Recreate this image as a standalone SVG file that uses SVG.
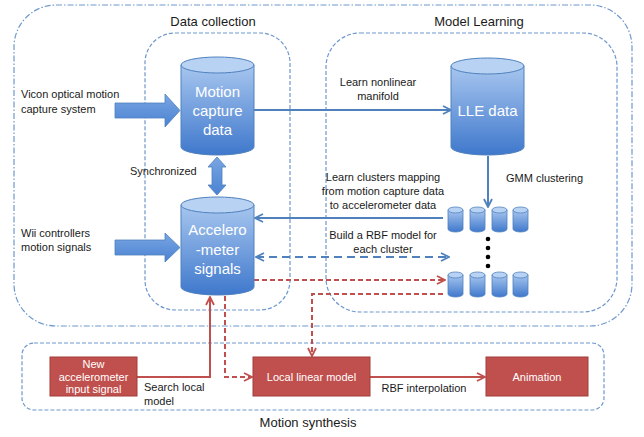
<svg xmlns="http://www.w3.org/2000/svg" xmlns:xlink="http://www.w3.org/1999/xlink" width="644" height="437" viewBox="0 0 644 437">
<defs>
<linearGradient id="cylG" x1="0" y1="0" x2="0" y2="1">
<stop offset="0" stop-color="#a7c6ef"/>
<stop offset="1" stop-color="#3f78cc"/>
</linearGradient>
<linearGradient id="arrG" x1="0" y1="0" x2="0" y2="1">
<stop offset="0" stop-color="#7aa6e3"/>
<stop offset="1" stop-color="#4a82d2"/>
</linearGradient>
<marker id="ab" viewBox="0 0 10 10" refX="9" refY="5" markerWidth="10" markerHeight="10" markerUnits="userSpaceOnUse" orient="auto-start-reverse">
<path d="M1,1 L9,5 L1,9" fill="none" stroke="#4f81bd" stroke-width="1.8"/>
</marker>
<marker id="ar" viewBox="0 0 10 10" refX="9" refY="5" markerWidth="10" markerHeight="10" markerUnits="userSpaceOnUse" orient="auto-start-reverse">
<path d="M1,1 L9,5 L1,9" fill="none" stroke="#c0504d" stroke-width="1.8"/>
</marker>
<g id="sc">
<path d="M0,3 L0,22 A7.5,3 0 0 0 15,22 L15,3 Z" fill="url(#cylG)" stroke="#4f81bd" stroke-width="0.8"/>
<ellipse cx="7.5" cy="3" rx="7.5" ry="3" fill="#b8d2f3" stroke="#4f81bd" stroke-width="0.8"/>
</g>
</defs>
<style>
.lbl{font-family:"Liberation Sans",Arial,sans-serif;font-size:11px;fill:#1a1a1a}
.ttl{font-family:"Liberation Sans",Arial,sans-serif;font-size:13px;fill:#1a1a1a}
.cyt{font-family:"Liberation Sans",Arial,sans-serif;font-size:15px;fill:#ffffff;text-anchor:middle}
.bxt{font-family:"Liberation Sans",Arial,sans-serif;font-size:11px;fill:#ffffff;text-anchor:middle}
.cylb{fill:url(#cylG);stroke:#4f81bd;stroke-width:1}
.cylt{fill:#b8d2f3;stroke:#4f81bd;stroke-width:1}
.rbox{fill:#c0504d;stroke:#a33c3a;stroke-width:1}
.blk{fill:url(#arrG);stroke:#4f81bd;stroke-width:0.8}
.grp{fill:none;stroke:#6f98cc;stroke-width:1.2}
.bs{fill:none;stroke:#4f81bd;stroke-width:2}
.rs{fill:none;stroke:#c0504d;stroke-width:2}
</style>

<g id="groups">
<rect x="14" y="5" width="618" height="321" rx="42" class="grp" stroke-dasharray="6 2 1.5 2"/>
<rect x="145" y="33" width="145" height="277" rx="30" class="grp" stroke-dasharray="4 2"/>
<rect x="326" y="33" width="291" height="279" rx="34" class="grp" stroke-dasharray="4 2"/>
<rect x="22" y="343" width="582" height="67" rx="12" class="grp" stroke-dasharray="4 2"/>
<text class="ttl" x="213" y="26" text-anchor="middle">Data collection</text>
<text class="ttl" x="479" y="26" text-anchor="middle">Model Learning</text>
<text class="ttl" x="308" y="427" text-anchor="middle">Motion synthesis</text>
</g>

<g id="connectors">
<polygon class="blk" points="115,103 165,103 165,94 180,110.5 165,127 165,118 115,118"/>
<polygon class="blk" points="115,240 165,240 165,233 180,247.5 165,262 165,255 115,255"/>
<polygon class="blk" points="217,157 226,167 222,167 222,185 226,185 217,195 208,185 212,185 212,167 208,167"/>
<line class="bs" x1="254" y1="110" x2="451" y2="110" marker-end="url(#ab)"/>
<line class="bs" x1="488" y1="156" x2="488" y2="207" marker-end="url(#ab)"/>
<line class="bs" x1="443" y1="218" x2="255" y2="218" marker-end="url(#ab)"/>
<line class="bs" x1="256" y1="257" x2="449" y2="257" stroke-dasharray="8 5" marker-start="url(#ab)" marker-end="url(#ab)"/>
<line class="rs" x1="254" y1="280" x2="445" y2="280" stroke-dasharray="5 3" marker-end="url(#ar)"/>
<polyline class="rs" points="443,294 312,294 312,356" stroke-dasharray="5 3" marker-end="url(#ar)"/>
<polyline class="rs" points="225,296 225,377 252,377" stroke-dasharray="5 3" marker-end="url(#ar)"/>
<polyline class="rs" points="137,377 210,377 210,297" marker-end="url(#ar)"/>
<line class="rs" x1="370" y1="377" x2="485" y2="377" marker-end="url(#ar)"/>
<text class="lbl" x="21" y="98">Vicon optical motion</text>
<text class="lbl" x="21" y="113">capture system</text>
<text class="lbl" x="130" y="175">Synchronized</text>
<text class="lbl" x="21" y="237">Wii controllers</text>
<text class="lbl" x="21" y="251">motion signals</text>
<text class="lbl" x="378" y="86" text-anchor="middle">Learn nonlinear</text>
<text class="lbl" x="378" y="100" text-anchor="middle">manifold</text>
<text class="lbl" x="506" y="182">GMM clustering</text>
<text class="lbl" x="383" y="181" text-anchor="middle">Learn clusters mapping</text>
<text class="lbl" x="383" y="195" text-anchor="middle">from motion capture data</text>
<text class="lbl" x="383" y="209" text-anchor="middle">to accelerometer data</text>
<text class="lbl" x="383" y="239" text-anchor="middle">Build a RBF model for</text>
<text class="lbl" x="383" y="253" text-anchor="middle">each cluster</text>
<text class="lbl" x="144" y="391">Search local</text>
<text class="lbl" x="144" y="405">model</text>
<text class="lbl" x="424" y="392" text-anchor="middle">RBF interpolation</text>
</g>

<g id="motion-capture">
<path class="cylb" d="M181,65 L181,147 A36.5,8 0 0 0 254,147 L254,65 Z"/>
<ellipse class="cylt" cx="217.5" cy="65" rx="36.5" ry="8"/>
<text class="cyt" x="217.5" y="97">Motion</text>
<text class="cyt" x="217.5" y="116">capture</text>
<text class="cyt" x="217.5" y="135">data</text>
</g>

<g id="accelerometer">
<path class="cylb" d="M181,205 L181,287 A36.5,8 0 0 0 254,287 L254,205 Z"/>
<ellipse class="cylt" cx="217.5" cy="205" rx="36.5" ry="8"/>
<text class="cyt" x="217.5" y="235">Accelero</text>
<text class="cyt" x="217.5" y="255">-meter</text>
<text class="cyt" x="217.5" y="274">signals</text>
</g>

<g id="lle-data">
<path class="cylb" d="M451,66 L451,147 A36.5,8 0 0 0 524,147 L524,66 Z"/>
<ellipse class="cylt" cx="487.5" cy="66" rx="36.5" ry="8"/>
<text class="cyt" x="487.5" y="116">LLE data</text>
</g>

<g id="clusters-top">
<use xlink:href="#sc" x="448" y="207"/>
<use xlink:href="#sc" x="470" y="207"/>
<use xlink:href="#sc" x="492" y="207"/>
<use xlink:href="#sc" x="513" y="207"/>
</g>
<g id="cluster-dots" fill="#000">
<circle cx="488" cy="239" r="2.3"/>
<circle cx="488" cy="248" r="2.3"/>
<circle cx="488" cy="257" r="2.3"/>
<circle cx="488" cy="266" r="2.3"/>
</g>
<g id="clusters-bottom">
<use xlink:href="#sc" x="448" y="272"/>
<use xlink:href="#sc" x="470" y="272"/>
<use xlink:href="#sc" x="492" y="272"/>
<use xlink:href="#sc" x="513" y="272"/>
</g>

<g id="new-input">
<rect class="rbox" x="50" y="357" width="87" height="39"/>
<text class="bxt" x="93.5" y="367.5" font-size="10.5">New</text>
<text class="bxt" x="93.5" y="380.5" font-size="10.5">accelerometer</text>
<text class="bxt" x="93.5" y="393" font-size="10.5">input signal</text>
</g>
<g id="local-linear">
<rect class="rbox" x="253" y="357" width="117" height="39"/>
<text class="bxt" x="311.5" y="381" font-size="12">Local linear model</text>
</g>
<g id="animation">
<rect class="rbox" x="486" y="357" width="102" height="39"/>
<text class="bxt" x="537" y="381" font-size="12">Animation</text>
</g>
</svg>
